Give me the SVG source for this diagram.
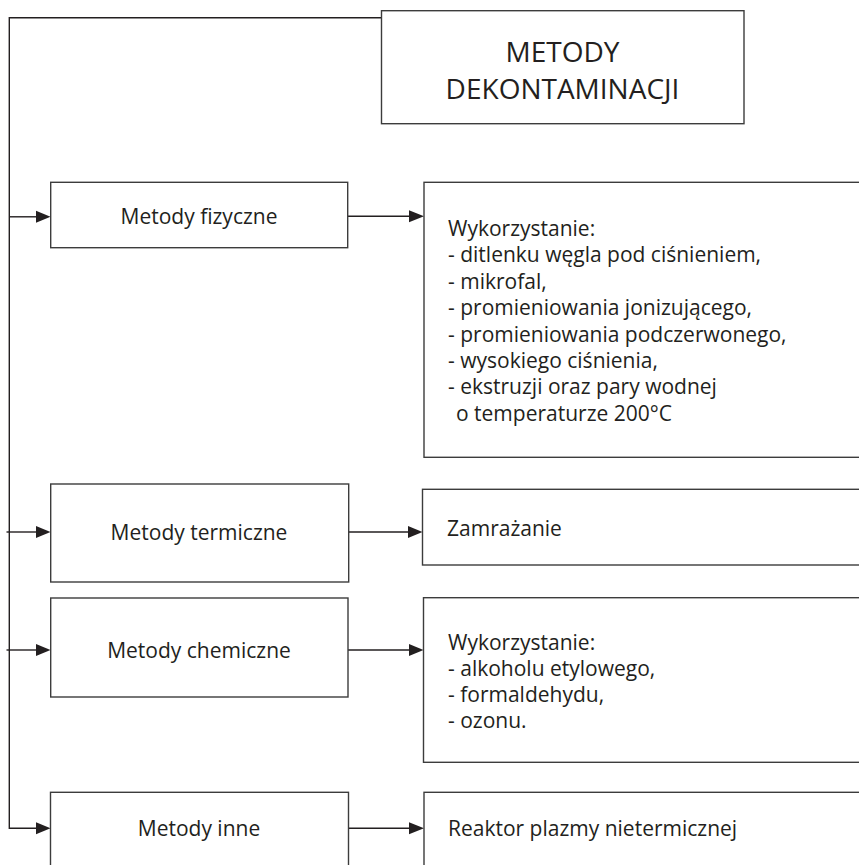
<svg xmlns="http://www.w3.org/2000/svg" width="859" height="865" viewBox="0 0 859 865">
<defs>
<style>
.box{fill:#fff;stroke:#3c3c3c;stroke-width:1.4}
.ln{fill:none;stroke:#231f20;stroke-width:1.4}
.ah{fill:#231f20;stroke:none}
text{font-family:"Open Sans","Noto Sans","Liberation Sans",sans-serif;fill:#231f20;font-size:21px}
.c{text-anchor:middle}
.t{font-size:28px}
</style>
</defs>
<rect width="859" height="865" fill="#fff"/>
<g id="connectors">
<path class="ln" d="M381.5,17.7 H9.3 V828.3 H36"/>
<path class="ln" d="M9.3,216.8 H36"/>
<path class="ln" d="M6.5,532 H36"/>
<path class="ln" d="M6.5,650 H36"/>
<polygon class="ah" points="36,210.8 50.5,216.8 36,222.8"/>
<polygon class="ah" points="36,526 50.5,532 36,538"/>
<polygon class="ah" points="36,644 50.5,650 36,656"/>
<polygon class="ah" points="36,822.3 50.5,828.3 36,834.3"/>
<path class="ln" d="M348,216.3 H409"/>
<path class="ln" d="M349,532 H408"/>
<path class="ln" d="M348,650 H409"/>
<path class="ln" d="M348.5,828.3 H409"/>
<polygon class="ah" points="409,210.3 424,216.3 409,222.3"/>
<polygon class="ah" points="408,526 422.5,532 408,538"/>
<polygon class="ah" points="409,644 423.5,650 409,656"/>
<polygon class="ah" points="409,822.3 424,828.3 409,834.3"/>
</g>
<g id="root">
<rect class="box" x="381.5" y="10.7" width="362.5" height="113"/>
<text class="c t" x="562.5" y="62">METODY</text>
<text class="c t" x="562.5" y="98.5">DEKONTAMINACJI</text>
</g>
<g id="fizyczne">
<rect class="box" x="50.7" y="182.3" width="297" height="65.4"/>
<text class="c" x="199" y="224">Metody fizyczne</text>
</g>
<g id="fizyczne-opis">
<rect class="box" x="424" y="182.3" width="450" height="275"/>
<text x="448" y="236">Wykorzystanie:</text>
<text x="448" y="262.4">- ditlenku węgla pod ciśnieniem,</text>
<text x="448" y="288.8">- mikrofal,</text>
<text x="448" y="315.2">- promieniowania jonizującego,</text>
<text x="448" y="341.6">- promieniowania podczerwonego,</text>
<text x="448" y="368">- wysokiego ciśnienia,</text>
<text x="448" y="394.4">- ekstruzji oraz pary wodnej</text>
<text x="456" y="420.8">o temperaturze 200°C</text>
</g>
<g id="termiczne">
<rect class="box" x="50.7" y="484" width="298" height="98"/>
<text class="c" x="199" y="540">Metody termiczne</text>
</g>
<g id="termiczne-opis">
<rect class="box" x="422.5" y="489.3" width="450" height="75.7"/>
<text x="447" y="536">Zamrażanie</text>
</g>
<g id="chemiczne">
<rect class="box" x="50.7" y="598" width="297.3" height="99"/>
<text class="c" x="199" y="657.5">Metody chemiczne</text>
</g>
<g id="chemiczne-opis">
<rect class="box" x="423.5" y="597.7" width="450" height="164.6"/>
<text x="448" y="650">Wykorzystanie:</text>
<text x="448" y="676">- alkoholu etylowego,</text>
<text x="448" y="702">- formaldehydu,</text>
<text x="448" y="728">- ozonu.</text>
</g>
<g id="inne">
<rect class="box" x="50.5" y="792.3" width="298" height="90"/>
<text class="c" x="199" y="835.5">Metody inne</text>
</g>
<g id="inne-opis">
<rect class="box" x="424" y="792.3" width="450" height="90"/>
<text x="448" y="835.5">Reaktor plazmy nietermicznej</text>
</g>
</svg>
